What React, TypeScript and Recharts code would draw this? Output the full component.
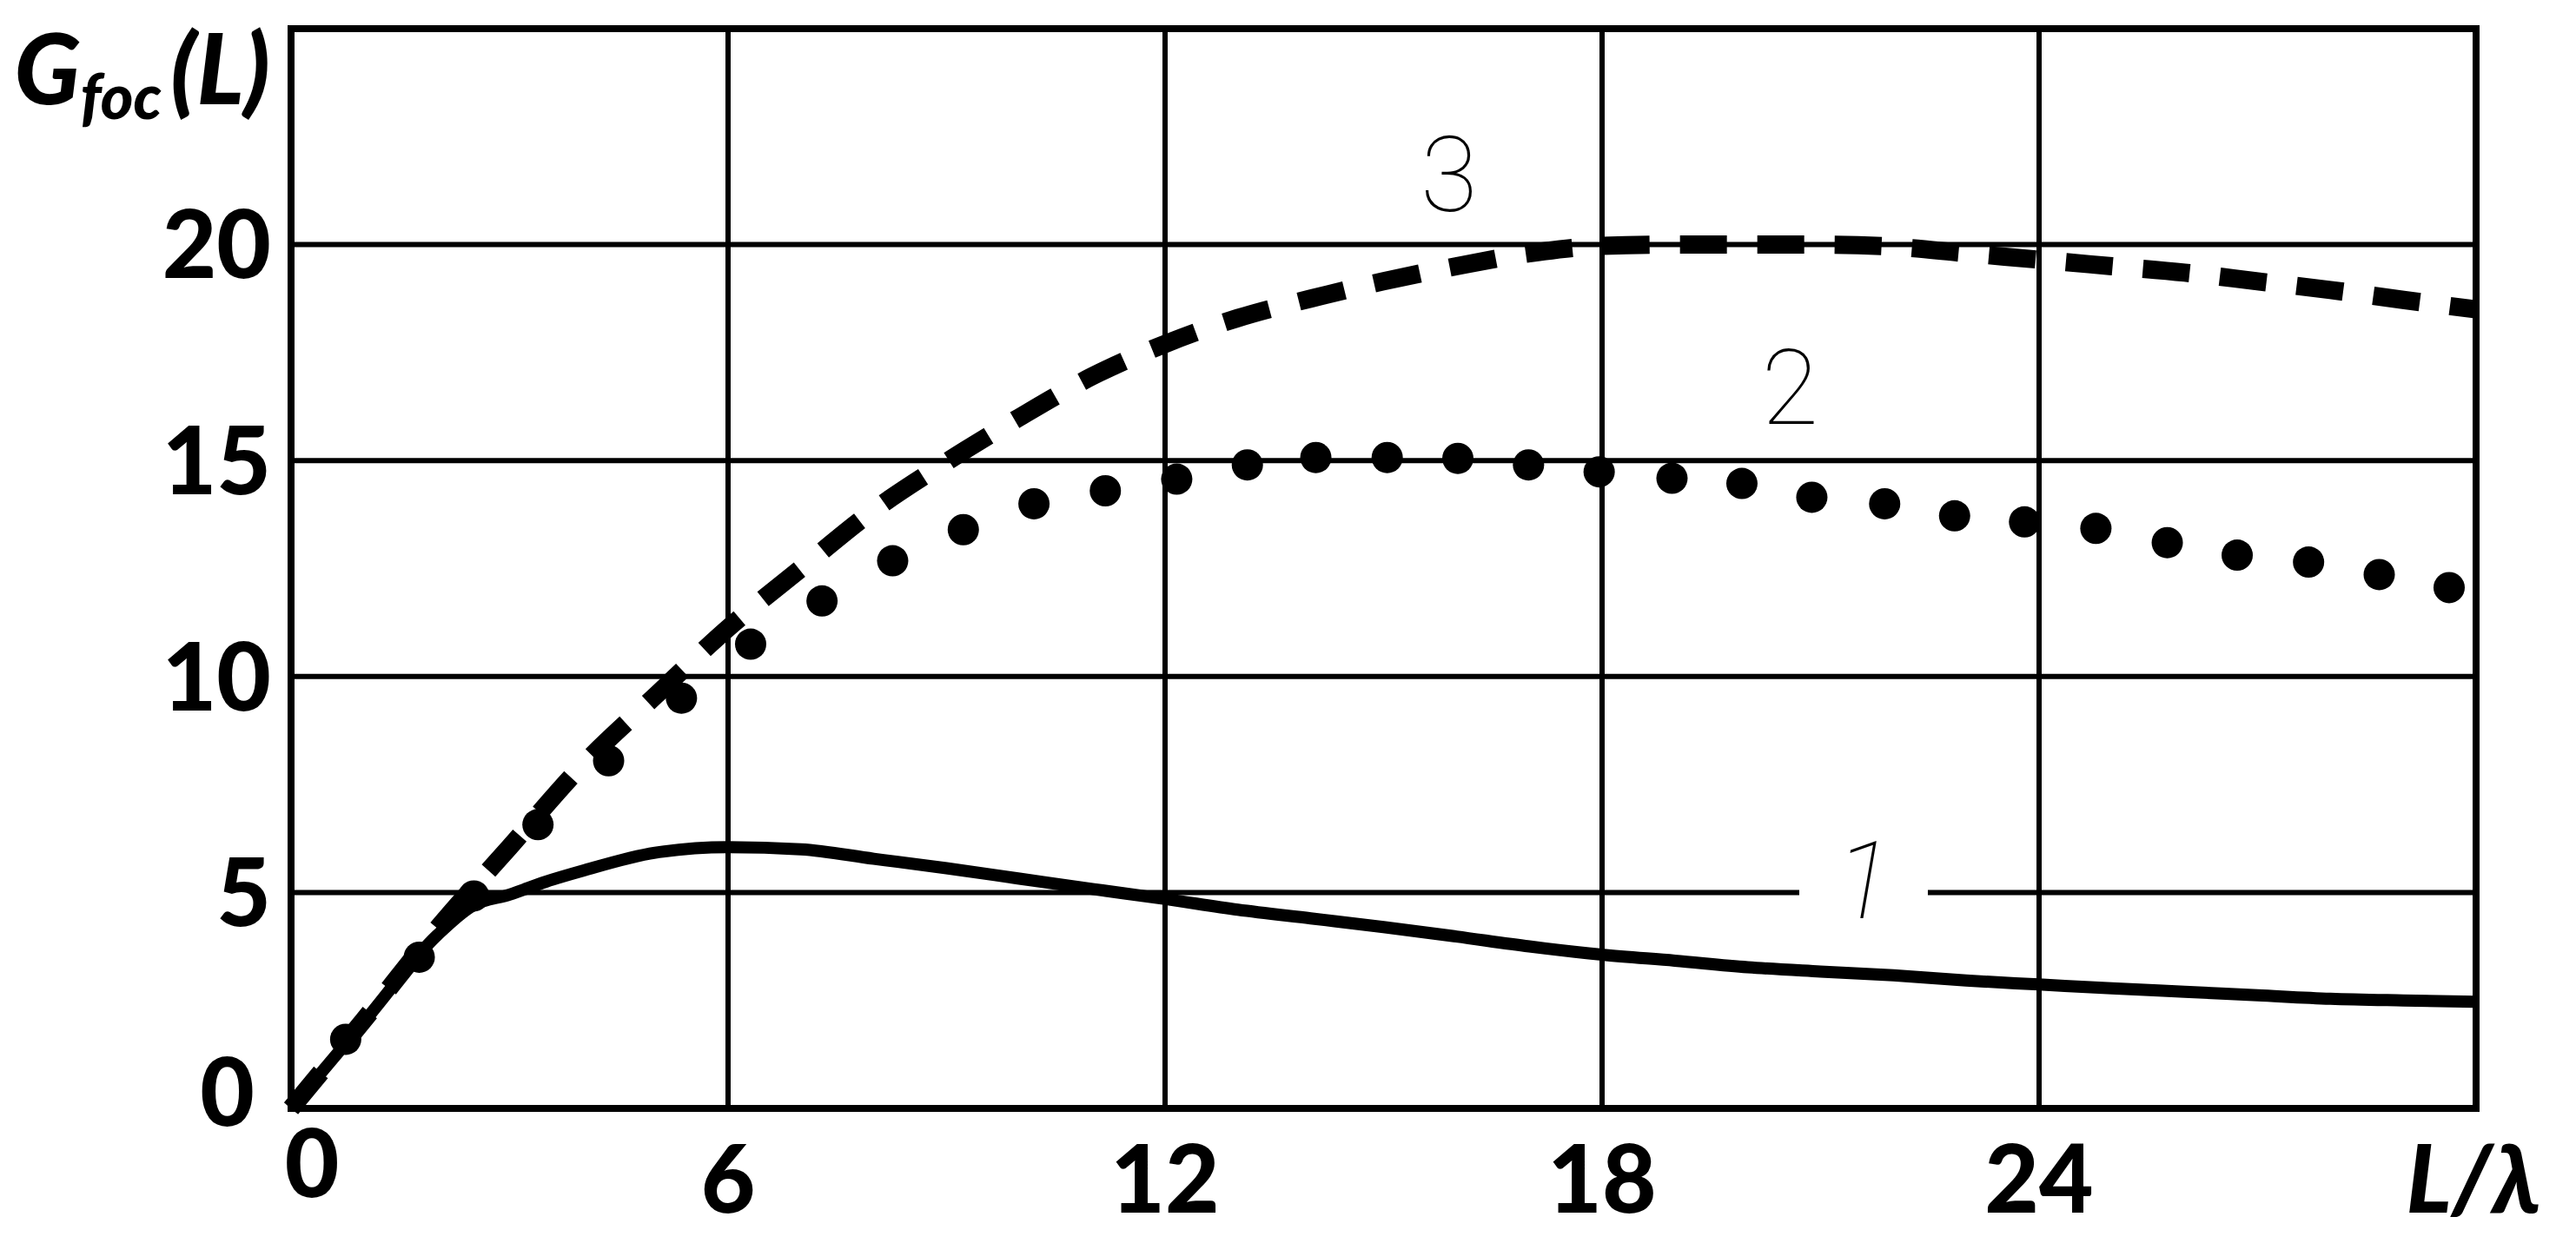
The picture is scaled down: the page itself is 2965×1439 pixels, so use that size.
import { LineChart, Line, XAxis, YAxis, CartesianGrid, ReferenceArea, ReferenceDot } from 'recharts';

const xTicks = [0, 6, 12, 18, 24, 30];
const yTicks = [0, 5, 10, 15, 20];

// curve 1 (solid)
const curve1X = [0, 1, 2, 2.5, 3, 3.5, 4, 5, 6, 7, 8, 9, 10, 11, 12, 13, 14, 15, 16, 17, 18, 19, 20, 21, 22, 23, 24, 25, 26, 27, 28, 29, 30];
const curve1Y = [0, 2.0, 4.0, 4.7, 4.95, 5.25, 5.5, 5.92, 6.05, 6.0, 5.78, 5.56, 5.32, 5.08, 4.85, 4.6, 4.4, 4.2, 3.98, 3.75, 3.56, 3.42, 3.27, 3.17, 3.08, 2.96, 2.87, 2.78, 2.7, 2.62, 2.54, 2.5, 2.47];

// curve 2 (dotted) - the dots as they sit on the picture
const curve2X = [0.75, 1.76, 2.51, 3.39, 4.36, 5.36, 6.31, 7.29, 8.26, 9.23, 10.2, 11.18, 12.16, 13.13, 14.07, 15.05, 16.02, 16.99, 17.96, 18.96, 19.92, 20.88, 21.88, 22.84, 23.8, 24.78, 25.76, 26.72, 27.7, 28.67, 29.63];
const curve2Y = [1.6, 3.5, 4.92, 6.57, 8.05, 9.5, 10.75, 11.75, 12.68, 13.4, 14.0, 14.3, 14.57, 14.9, 15.07, 15.07, 15.05, 14.9, 14.74, 14.59, 14.47, 14.15, 14.0, 13.72, 13.58, 13.43, 13.1, 12.81, 12.65, 12.36, 12.06];

// curve 3 (dashed)
const curve3X = [0, 1, 2, 3, 4, 5, 6, 7, 8, 9, 10, 11, 12, 13, 14, 15, 16, 17, 18, 19, 20, 21, 22, 23, 24, 25, 26, 27, 28, 29, 30];
const curve3Y = [0, 2.05, 4.15, 6.05, 7.95, 9.55, 11.12, 12.5, 13.85, 14.97, 16.0, 16.95, 17.7, 18.3, 18.75, 19.15, 19.5, 19.8, 19.97, 20.0, 20.0, 20.0, 19.95, 19.8, 19.65, 19.5, 19.35, 19.15, 18.95, 18.72, 18.5];

// curve numbers written on the plot
const curveLabels = [
  { text: '3', x: 15.9, y: 21.64 },
  { text: '2', x: 20.58, y: 16.71 },
];
const curve1Label = { text: '1', x: 21.59, y: 5 };

const curve1Data = curve1X.map((x, i) => ({ x, g: curve1Y[i] }));
const curve2Data = curve2X.map((x, i) => ({ x, g: curve2Y[i] }));
const curve3Data = curve3X.map((x, i) => ({ x, g: curve3Y[i] }));

const tickFont = { fontFamily: 'Lato, "Open Sans", sans-serif', fontWeight: 900, fontSize: 108, fill: '#000' };
const thinFont = { fontFamily: 'Roboto, "DejaVu Sans", sans-serif', fontWeight: 100, fontSize: 120, fill: '#000' };

function YTick({ x, y, payload }: any) {
  const zero = payload.value === 0;
  return (
    <text x={x + (zero ? -19 : 0)} y={y + (zero ? -19 : 0)} dy="0.36em" textAnchor="end" style={tickFont}>
      {payload.value}
    </text>
  );
}

function XTick({ x, y, payload }: any) {
  const v = payload.value;
  if (v === 30) {
    return (
      <text x={x - 3} y={y} dy="0.72em" textAnchor="middle" style={{ ...tickFont, fontStyle: 'italic' }}>
        L/λ
      </text>
    );
  }
  const zero = v === 0;
  return (
    <text x={x + (zero ? 24 : 0)} y={y + (zero ? -18 : 0)} dy="0.72em" textAnchor="middle" style={tickFont}>
      {v}
    </text>
  );
}

function Title(props: any) {
  const vb = props.viewBox;
  return (
    <text x={vb.x + vb.width - 24} y={vb.y + 87} textAnchor="end"
      style={{ ...tickFont, fontStyle: 'italic', fontSize: 112 }}>
      <tspan>G</tspan>
      <tspan fontSize={72} dy={17}>foc</tspan>
      <tspan dy={-17} dx={10}>(L)</tspan>
    </text>
  );
}

export default function App() {
  return (
    <div style={{ position: 'absolute', left: 0, top: 0, width: 2965, height: 1439, background: '#fff' }}>
      <LineChart width={2965} height={1439} margin={{ top: 33, right: 115, left: 35, bottom: 63 }}>
        <CartesianGrid stroke="#000" strokeWidth={6} />
        <XAxis dataKey="x" type="number" domain={[0, 30]} ticks={xTicks} height={100}
          axisLine={false} tickLine={false} tickSize={0} tickMargin={42} tick={<XTick />} />
        <YAxis type="number" domain={[0, 25]} ticks={yTicks} width={300}
          axisLine={false} tickLine={false} tickSize={0} tickMargin={23} tick={<YTick />}
          label={(p: any) => <Title {...p} />} />
        <ReferenceArea x1={0} x2={30} y1={0} y2={25} fill="none" fillOpacity={0} stroke="#000" strokeWidth={8} />
        <Line data={curve1Data} dataKey="g" type="monotone" stroke="#000" strokeWidth={14}
          dot={false} isAnimationActive={false} />
        <Line data={curve3Data} dataKey="g" type="monotone" stroke="#000" strokeWidth={21}
          strokeDasharray="54 35" dot={false} isAnimationActive={false} />
        <Line data={curve2Data} dataKey="g" type="monotone" stroke="none" strokeWidth={0}
          dot={{ r: 18, fill: '#000', stroke: 'none' }} isAnimationActive={false} />
        {curveLabels.map((l) => (
          <ReferenceDot key={l.text} x={l.x} y={l.y} r={0}
            shape={(p: any) => (
              <text x={p.cx} y={p.cy} dy="0.36em" textAnchor="middle" style={thinFont}>{l.text}</text>
            )} />
        ))}
        <ReferenceDot x={curve1Label.x} y={curve1Label.y} r={0}
          shape={(p: any) => (
            <g>
              <rect x={p.cx - 74} y={p.cy - 8} width={148} height={16} fill="#fff" />
              <text x={p.cx} y={p.cy + 30} textAnchor="middle" style={{ ...thinFont, fontSize: 125, fontStyle: 'italic' }}>
                {curve1Label.text}
              </text>
            </g>
          )} />
      </LineChart>
    </div>
  );
}
